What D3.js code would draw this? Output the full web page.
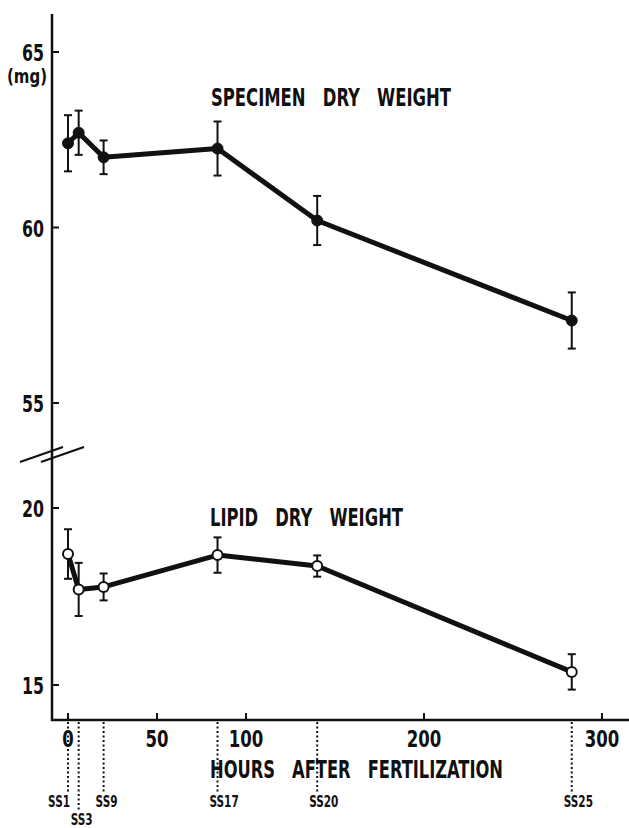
<!DOCTYPE html>
<html lang="en">
<head>
  <meta charset="UTF-8">
  <title>Specimen and lipid dry weight</title>
  <script src="https://cdnjs.cloudflare.com/ajax/libs/d3/7.8.5/d3.min.js"></script>
  <style>
    body { margin: 0; background: #fff; }
    svg text {
      font-family: "DejaVu Sans Condensed", "DejaVu Sans", sans-serif;
      font-weight: bold;
      fill: #111;
      white-space: pre;
    }
    .axis line, .axis path { stroke: #111; }
    .data-line { fill: none; stroke: #111; stroke-width: 5; stroke-linejoin: round; }
    .err { stroke: #111; stroke-width: 2; }
    .stage-line { stroke: #111; stroke-width: 2; stroke-dasharray: 2 2.5; }
  </style>
</head>
<body>
  <div id="chart"></div>
  <script>
    // hours after fertilization and stage of each sample
    const hours = [0, 6, 20, 84, 140, 283];
    const stages = ["SS1", "SS3", "SS9", "SS17", "SS20", "SS25"];

    // specimen dry weight (mg), mean and error
    const specimenMean = [62.4, 62.7, 62.0, 62.25, 60.2, 57.35];
    const specimenErr = [0.8, 0.63, 0.48, 0.77, 0.7, 0.8];

    // lipid dry weight (mg), mean and error
    const lipidMean = [18.7, 17.7, 17.77, 18.67, 18.36, 15.37];
    const lipidErr = [0.7, 0.75, 0.38, 0.5, 0.3, 0.5];

    const xTicks = [0, 50, 100, 200, 300];
    const upperTicks = [55, 60, 65];
    const lowerTicks = [15, 20];

    const width = 629, height = 828;
    const axisX = 52, axisBottom = 720, axisTop = 14;

    const svg = d3.select("#chart").append("svg")
      .attr("width", width)
      .attr("height", height);

    const x = d3.scaleLinear().domain([0, 300]).range([68, 602]);
    const yUpper = d3.scaleLinear().domain([55, 65]).range([403, 52]);
    const yLower = d3.scaleLinear().domain([15, 20]).range([685, 508]);

    // condensed text squeezed to the width it has in the original
    function label(px, py, str, size, len, anchor) {
      return svg.append("text")
        .attr("x", px).attr("y", py)
        .attr("text-anchor", anchor || "start")
        .attr("textLength", len)
        .attr("lengthAdjust", "spacingAndGlyphs")
        .style("font-size", size + "px")
        .text(str);
    }

    // axes lines
    svg.append("line")
      .attr("x1", axisX).attr("x2", axisX)
      .attr("y1", axisTop).attr("y2", axisBottom + 1)
      .attr("stroke", "#111").attr("stroke-width", 2.5);
    svg.append("line")
      .attr("x1", axisX - 1).attr("x2", width)
      .attr("y1", axisBottom).attr("y2", axisBottom)
      .attr("stroke", "#111").attr("stroke-width", 2.5);

    // axis break marks
    [0, 21].forEach(dx => {
      svg.append("line")
        .attr("x1", 20 + dx).attr("y1", 462)
        .attr("x2", 63 + dx).attr("y2", 447)
        .attr("stroke", "#111").attr("stroke-width", 2.2);
    });

    // y ticks
    function yTicks(scale, ticks) {
      const g = svg.append("g").attr("class", "axis");
      ticks.forEach(t => {
        g.append("line")
          .attr("x1", axisX).attr("x2", axisX + 7)
          .attr("y1", scale(t)).attr("y2", scale(t))
          .attr("stroke-width", 2);
        label(axisX - 8, scale(t) + 9, t, 23, String(t).length * 11, "end");
      });
    }
    yTicks(yUpper, upperTicks);
    yTicks(yLower, lowerTicks);

    label(47, 83, "(mg)", 19, 40, "end");

    // x ticks
    const xg = svg.append("g").attr("class", "axis");
    xTicks.forEach(t => {
      xg.append("line")
        .attr("x1", x(t)).attr("x2", x(t))
        .attr("y1", axisBottom).attr("y2", axisBottom - 7)
        .attr("stroke-width", 2);
      label(x(t), 747, t, 23, String(t).length * 11.5, "middle");
    });

    // stage markers
    stages.forEach((s, i) => {
      const drop = s === "SS3" ? 18 : 0;
      svg.append("line")
        .attr("class", "stage-line")
        .attr("x1", x(hours[i])).attr("x2", x(hours[i]))
        .attr("y1", axisBottom + 2).attr("y2", 794 + drop);
      label(s === "SS1" ? x(hours[i]) + 2 : x(hours[i]) - 8, 807 + drop, s, 15,
        s.length * 7.3, s === "SS1" ? "end" : "start");
    });

    label(210, 778, "HOURS   AFTER   FERTILIZATION", 24, 293);

    // series
    function drawSeries(scale, means, errs, filled) {
      const pts = hours.map((h, i) => ({ h, m: means[i], e: errs[i] }));
      const line = d3.line().x(d => x(d.h)).y(d => scale(d.m));
      svg.append("path").datum(pts).attr("class", "data-line").attr("d", line);

      const g = svg.append("g").selectAll("g").data(pts).join("g");
      g.append("line").attr("class", "err")
        .attr("x1", d => x(d.h)).attr("x2", d => x(d.h))
        .attr("y1", d => scale(d.m + d.e)).attr("y2", d => scale(d.m - d.e));
      [1, -1].forEach(sgn => {
        g.append("line").attr("class", "err")
          .attr("x1", d => x(d.h) - 4).attr("x2", d => x(d.h) + 4)
          .attr("y1", d => scale(d.m + sgn * d.e)).attr("y2", d => scale(d.m + sgn * d.e));
      });
      g.append("circle")
        .attr("cx", d => x(d.h)).attr("cy", d => scale(d.m))
        .attr("r", filled ? 5.5 : 5)
        .attr("fill", filled ? "#111" : "#fff")
        .attr("stroke", "#111")
        .attr("stroke-width", filled ? 1 : 2);
    }
    drawSeries(yUpper, specimenMean, specimenErr, true);
    drawSeries(yLower, lipidMean, lipidErr, false);

    // series titles
    label(211, 106, "SPECIMEN   DRY   WEIGHT", 25, 240);
    label(210, 526, "LIPID   DRY   WEIGHT", 24, 193);
  </script>
</body>
</html>
